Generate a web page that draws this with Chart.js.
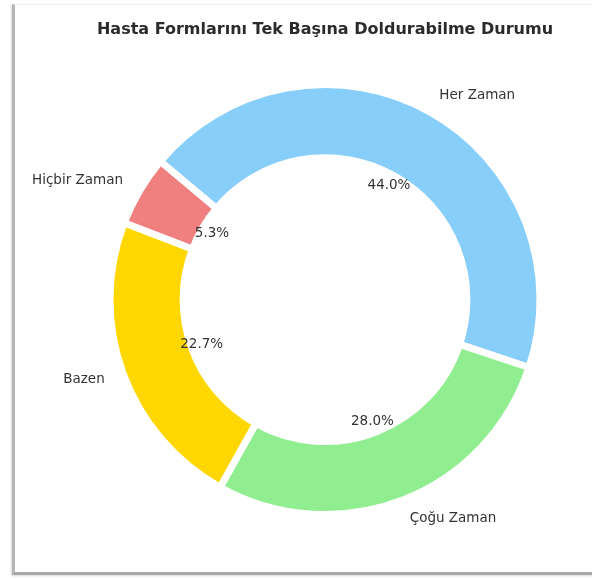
<!DOCTYPE html>
<html>
<head>
<meta charset="utf-8">
<script src="https://cdn.jsdelivr.net/npm/chart.js@4.4.0/dist/chart.umd.min.js"></script>
<style>
    html, body { margin: 0; padding: 0; background: #fff; }
    body { width: 592px; height: 579px; position: relative; overflow: hidden; }
    #frame {
        position: absolute; left: 12px; top: 4px; width: 600px; height: 567px;
        border-left: 3px solid #b4b4b4; border-bottom: 3px solid #a8a8a8; border-top: 1px solid #ececec;
        box-shadow: -1px 1px 2px rgba(0,0,0,0.15);
    }
    #wrap { position: absolute; left: 0; top: 0; width: 592px; height: 579px; }
</style>
</head>
<body>
<div id="frame"></div>
<div id="wrap"><canvas id="pieChart"></canvas></div>
<script>
// clockwise from the top-left, matching the reference
const labels = ["Her Zaman", "Çoğu Zaman", "Bazen", "Hiçbir Zaman"];
const percents = [44.0, 28.0, 22.7, 5.3];
const colors = ["#87CEFA", "#90EE90", "#FFD700", "#F08080"];

const textColor = "#333333";

// draws the outer labels and the percentages from each arc's geometry
const sliceText = {
    id: "sliceText",
    afterDatasetsDraw(chart) {
        const ctx = chart.ctx;
        const arcs = chart.getDatasetMeta(0).data;
        ctx.save();
        ctx.fillStyle = textColor;
        ctx.font = "13.5px 'DejaVu Sans'";
        ctx.textBaseline = "middle";
        arcs.forEach((arc, i) => {
            const mid = (arc.startAngle + arc.endAngle) / 2;
            const R = arc.outerRadius;
            const cx = Math.cos(mid), cy = Math.sin(mid);

            const lx = arc.x + cx * R * 1.09;
            const ly = arc.y + cy * R * 1.09;
            ctx.textAlign = cx > 0 ? "left" : "right";
            ctx.fillText(labels[i], lx, ly);

            const px = arc.x + cx * R * 0.61;
            const py = arc.y + cy * R * 0.61;
            ctx.textAlign = "center";
            ctx.fillText(percents[i].toFixed(1) + "%", px, py);
        });
        ctx.restore();
    },
};

const chart = new Chart(document.getElementById("pieChart"), {
    type: "doughnut",
    data: {
        labels: labels,
        datasets: [
            {
                data: percents,
                backgroundColor: colors,
                borderColor: "#ffffff",
                borderWidth: 7,
                hoverOffset: 0,
            },
        ],
    },
    options: {
        responsive: true,
        maintainAspectRatio: false,
        animation: false,
        rotation: -50,
        radius: 215,
        cutout: "66%",
        layout: {
            padding: { left: 58, right: 0, top: 20, bottom: 29 },
        },
        plugins: {
            legend: { display: false },
            tooltip: { enabled: false },
            title: {
                display: true,
                text: "Hasta Formlarını Tek Başına Doldurabilme Durumu",
                color: "#2b2b2b",
                font: { family: "'DejaVu Sans'", size: 16, weight: "bold" },
                padding: { top: 0, bottom: 10 },
            },
        },
    },
    plugins: [sliceText],
});
</script>
</body>
</html>
